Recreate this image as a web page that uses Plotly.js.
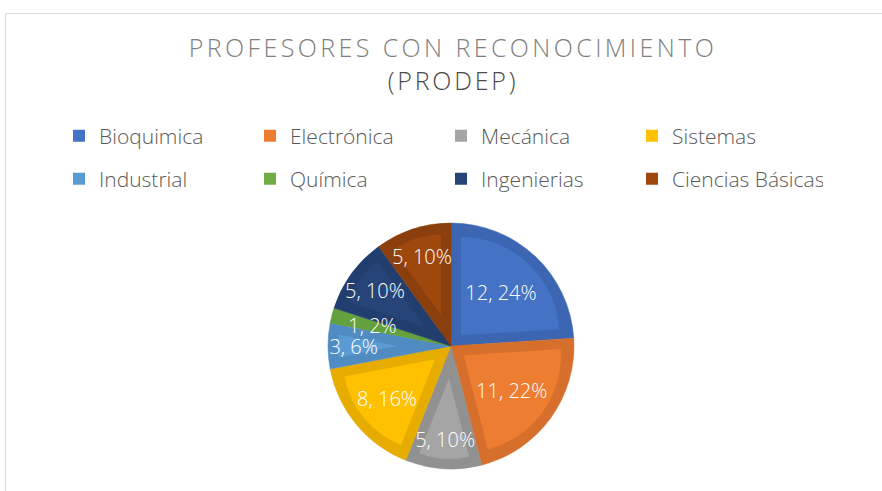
<!DOCTYPE html>
<html>
<head>
<meta charset="utf-8">
<script src="https://cdn.plot.ly/plotly-3.0.1.min.js"></script>
<style>html,body{margin:0;padding:0;background:#fff;}#chart{width:882px;height:491px;}</style>
</head>
<body>
<div id="chart"></div>
<script>
// ---- data ----
const labels = ['Bioquimica', 'Electrónica', 'Mecánica', 'Sistemas', 'Industrial', 'Química', 'Ingenierias', 'Ciencias Básicas'];
const values = [12, 11, 5, 8, 3, 1, 5, 5];
const colors = ['#4472C4', '#ED7D31', '#A5A5A5', '#FFC000', '#5B9BD5', '#70AD47', '#264478', '#9E480E'];
const ringColors = ['#3C66B2', '#D66F2B', '#919191', '#E6AD00', '#508BC2', '#64A03D', '#223E6E', '#8B3F0C'];
const titleLine1 = 'PROFESORES CON RECONOCIMIENTO';
const titleLine2 = '(PRODEP)';

// ---- geometry (layout only) ----
const W = 882, H = 491;
const CX = 451, CY = 346, R = 123, RING = 10;
function domainFor(r) {
  return {x: [(CX - r) / W, (CX + r) / W], y: [1 - (CY + r) / H, 1 - (CY - r) / H]};
}
const total = values.reduce((a, b) => a + b, 0);
const T = 'rgba(0,0,0,0)';
const SMALL = 0.05; // share below which the label is drawn closer to the centre

const traces = [];
// legend carriers (hidden under pie)
traces.push({type: 'pie', labels: labels.slice(0, 4), values: values.slice(0, 4), sort: false,
  marker: {colors: colors.slice(0, 4)}, textinfo: 'none', hoverinfo: 'skip', legend: 'legend',
  domain: domainFor(20)});
traces.push({type: 'pie', labels: labels.slice(4), values: values.slice(4), sort: false,
  marker: {colors: colors.slice(4)}, textinfo: 'none', hoverinfo: 'skip', legend: 'legend2',
  domain: domainFor(20)});
// full darker pie (rings)
traces.push({type: 'pie', labels: labels, values: values, sort: false, direction: 'clockwise', rotation: 0,
  marker: {colors: ringColors, line: {color: ringColors, width: 0.5}}, textinfo: 'none', hoverinfo: 'skip',
  showlegend: false, domain: domainFor(R)});
// inner lighter regions, one per slice
const D = R - RING;
values.forEach((v, i) => {
  const theta = 2 * Math.PI * v / total;
  const p = RING / Math.sin(theta / 2);
  if (p >= D * 0.7) return;
  const pull = labels.map((_, j) => j === i ? p / (D - p) : 0);
  const cols = labels.map((_, j) => j === i ? colors[i] : T);
  traces.push({type: 'pie', labels: labels, values: values, sort: false, direction: 'clockwise', rotation: 0,
    pull: pull, marker: {colors: cols, line: {width: 0}}, textinfo: 'none', hoverinfo: 'skip',
    showlegend: false, domain: domainFor(D)});
});
// labels
const tmpl = '%{value}, %{percent:.0%}';
const labelFont = {family: 'Open Sans', size: 20, color: '#ffffff', weight: 300};
traces.push({type: 'pie', labels: labels, values: values, sort: false, direction: 'clockwise', rotation: 0,
  marker: {colors: labels.map(() => T)}, texttemplate: values.map(v => v / total < SMALL ? '' : tmpl),
  textposition: 'inside', insidetextorientation: 'horizontal', textfont: labelFont,
  hovertemplate: '%{label}: %{value} (%{percent})<extra></extra>', showlegend: false, domain: domainFor(R)});
traces.push({type: 'pie', labels: labels, values: values, sort: false, direction: 'clockwise', rotation: 0,
  marker: {colors: labels.map(() => T)}, texttemplate: values.map(v => v / total < SMALL ? tmpl : ''),
  textposition: 'inside', insidetextorientation: 'horizontal', textfont: labelFont,
  hoverinfo: 'skip', showlegend: false, domain: domainFor(R * 0.7)});

const legendCommon = {orientation: 'h', xanchor: 'left', yanchor: 'middle', entrywidth: 146, entrywidthmode: 'pixels',
  font: {family: 'Open Sans', size: 21, color: '#595959', weight: 300}, bgcolor: 'rgba(0,0,0,0)', itemclick: false, itemdoubleclick: false};

const layout = {
  width: W, height: H,
  margin: {l: 0, r: 0, t: 0, b: 0},
  paper_bgcolor: '#ffffff',
  font: {family: 'Open Sans'},
  title: {
    text: '<span style="color:#7F7F7F;font-weight:300;letter-spacing:3.4px">' + titleLine1 + '</span><br><span style="color:#4A4A4A;letter-spacing:2.8px">' + titleLine2 + '</span>',
    font: {family: 'Open Sans', size: 25, color: '#595959', weight: 300},
    x: 453 / W, xanchor: 'center', xref: 'paper', yref: 'container', y: 1 - 57 / H, yanchor: 'top'
  },
  legend: Object.assign({}, legendCommon, {x: 59 / W, y: 1 - 136 / H}),
  legend2: Object.assign({}, legendCommon, {x: 59 / W, y: 1 - 179 / H}),
  shapes: [{type: 'rect', xref: 'paper', yref: 'paper', x0: 5.5 / W, x1: 1.05, y0: -0.05, y1: 1 - 13.5 / H,
    line: {color: '#D9D9D9', width: 1}, fillcolor: 'rgba(0,0,0,0)', layer: 'below'}],
  uniformtext: {minsize: 20, mode: 'show'},
  showlegend: true
};

Plotly.newPlot('chart', traces, layout, {displayModeBar: false});
</script>
</body>
</html>
